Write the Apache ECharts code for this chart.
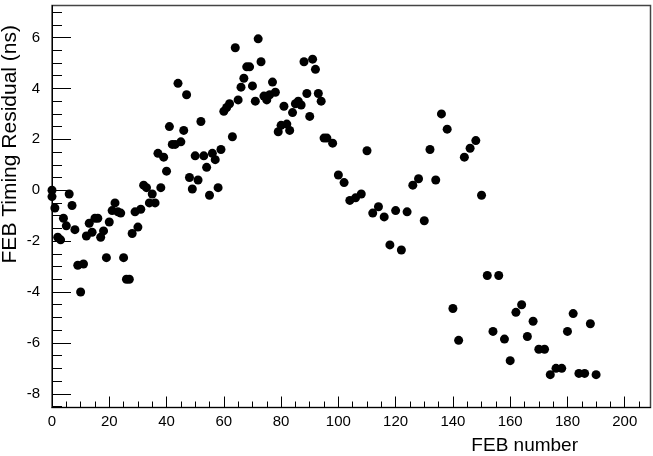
<!DOCTYPE html>
<html>
<head>
<meta charset="utf-8">
<script src="https://cdn.jsdelivr.net/npm/echarts@6/dist/echarts.min.js"></script>
<style>
html,body{margin:0;padding:0;background:#fff;}
#chart{width:653px;height:456px;}
</style>
</head>
<body>
<div id="chart"></div>
<script>
// FEB numbers and timing residuals (ns)
const febNumbers = [0,0,1,2,3,4,5,6,7,8,9,10,11,12,13,14,15,16,17,18,19,20,21,22,23,24,25,26,27,28,29,30,
  31,32,33,34,35,36,37,38,39,40,41,42,43,44,45,46,47,48,49,50,51,52,53,54,55,56,57,58,59,60,
  61,62,63,64,65,66,67,68,69,70,71,72,73,74,75,76,77,78,79,80,81,82,83,84,85,86,87,88,89,90,
  91,92,93,94,95,96,98,100,102,104,106,108,110,112,114,116,118,120,122,124,126,128,130,132,134,136,138,
  140,142,144,146,148,150,152,154,156,158,160,162,164,166,168,170,172,174,176,178,180,182,184,186,188,190];
const residuals = [0.0,-0.25,-0.7,-1.85,-1.95,-1.1,-1.4,-0.15,-0.6,-1.55,-2.95,-4.0,-2.9,-1.8,-1.3,-1.65,-1.1,-1.1,-1.85,-1.6,-2.65,-1.25,-0.8,-0.5,-0.85,-0.9,-2.65,-3.5,-3.5,-1.7,-0.85,-1.45,
  -0.75,0.2,0.1,-0.5,-0.15,-0.5,1.45,0.1,1.3,0.75,2.5,1.8,1.8,4.2,1.9,2.35,3.75,0.5,0.05,1.35,0.4,2.7,1.35,0.9,-0.2,1.45,1.2,0.1,1.6,3.1,
  3.25,3.4,2.1,5.6,3.55,4.05,4.4,4.85,4.85,4.1,3.5,5.95,5.05,3.7,3.55,3.75,4.25,3.85,2.3,2.55,3.3,2.6,2.35,3.05,3.4,3.5,3.35,5.05,3.8,2.9,
  5.15,4.75,3.8,3.5,2.05,2.05,1.85,0.6,0.3,-0.4,-0.3,-0.15,1.55,-0.9,-0.65,-1.05,-2.15,-0.8,-2.35,-0.85,0.2,0.45,-1.2,1.6,0.4,3.0,2.4,
  -4.65,-5.9,1.3,1.65,1.95,-0.2,-3.35,-5.55,-3.35,-5.85,-6.7,-4.8,-4.5,-5.75,-5.15,-6.25,-6.25,-7.25,-7.0,-7.0,-5.55,-4.85,-7.2,-7.2,-5.25,-7.25];

const xMajorTicks = [0,20,40,60,80,100,120,140,160,180,200];
const xMinorTicks = [5,10,15,25,30,35,45,50,55,65,70,75,85,90,95,105,110,115,125,130,135,145,150,155,165,170,175,185,190,195,205];
const yMajorTicks = [-8,-6,-4,-2,0,2,4,6];
const yMinorTicks = [-8.5,-7.5,-7,-6.5,-5.5,-5,-4.5,-3.5,-3,-2.5,-1.5,-1,-0.5,0.5,1,1.5,2.5,3,3.5,4.5,5,5.5,6.5,7];

const xRange = [0, 209];
const yRange = [-8.54, 7.26];

const points = febNumbers.map((f, i) => [f, residuals[i]]);

const chart = echarts.init(document.getElementById('chart'), null, {renderer: 'canvas'});
const labelFont = {fontFamily: 'Liberation Sans, Arial, sans-serif', fontSize: 15, color: '#000'};

chart.setOption({
  animation: false,
  backgroundColor: '#fff',
  grid: {left: 52, right: 2.5, top: 5.5, bottom: 48.5, show: true, borderColor: '#444', borderWidth: 1.5, backgroundColor: 'transparent'},
  xAxis: [
    {
      type: 'value', min: xRange[0], max: xRange[1], position: 'bottom',
      axisLine: {show: true, onZero: false, lineStyle: {color: '#000', width: 1}},
      axisTick: {show: true, inside: true, length: 11, customValues: xMajorTicks, lineStyle: {color: '#000'}},
      axisLabel: Object.assign({show: true, margin: 7, customValues: xMajorTicks}, labelFont),
      splitLine: {show: false}
    },
    {
      type: 'value', min: xRange[0], max: xRange[1], position: 'bottom',
      axisLine: {show: false, onZero: false},
      axisTick: {show: true, inside: true, length: 6, customValues: xMinorTicks, lineStyle: {color: '#000'}},
      axisLabel: {show: false},
      splitLine: {show: false}
    }
  ],
  yAxis: [
    {
      type: 'value', min: yRange[0], max: yRange[1], position: 'left',
      axisLine: {show: true, onZero: false, lineStyle: {color: '#000', width: 1}},
      axisTick: {show: true, inside: true, length: 19, customValues: yMajorTicks, lineStyle: {color: '#000'}},
      axisLabel: Object.assign({show: true, margin: 12, customValues: yMajorTicks}, labelFont),
      splitLine: {show: false}
    },
    {
      type: 'value', min: yRange[0], max: yRange[1], position: 'left',
      axisLine: {show: false, onZero: false},
      axisTick: {show: true, inside: true, length: 10, customValues: yMinorTicks, lineStyle: {color: '#000'}},
      axisLabel: {show: false},
      splitLine: {show: false}
    }
  ],
  graphic: [
    {
      type: 'text', x: 578, y: 446,
      style: {text: 'FEB number', fontFamily: 'Liberation Sans, Arial, sans-serif', fontSize: 19, fill: '#000', align: 'right', verticalAlign: 'middle'}
    },
    {
      type: 'text', x: 10, y: 25, rotation: Math.PI / 2,
      style: {text: 'FEB Timing Residual (ns)', fontFamily: 'Liberation Sans, Arial, sans-serif', fontSize: 21, fill: '#000', align: 'right', verticalAlign: 'middle'}
    }
  ],
  series: [{
    type: 'scatter',
    xAxisIndex: 0, yAxisIndex: 0,
    data: points,
    symbol: 'circle',
    symbolSize: 9,
    itemStyle: {color: '#000', opacity: 1},
    silent: true
  }]
});
</script>
</body>
</html>
